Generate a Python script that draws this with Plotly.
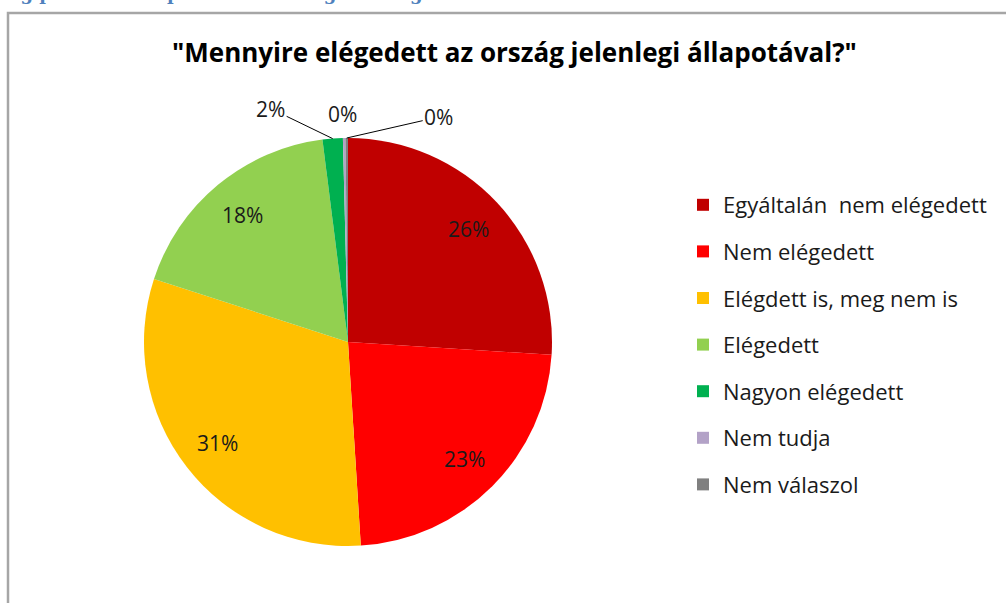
import math
import plotly.graph_objects as go

# Data
labels = ["Egyáltalán\u00a0 nem elégedett", "Nem elégedett", "Elégdett is, meg nem is",
          "Elégedett", "Nagyon elégedett", "Nem tudja", "Nem válaszol"]
values = [26.0, 23.0, 31.0, 18.0, 1.6, 0.2, 0.2]
colors = ["#C00000", "#FF0000", "#FFC000", "#92D050", "#00B050", "#B3A2C7", "#808080"]
title_text = '"Mennyire elégedett az ország jelenlegi állapotával?"'
header_text = "ország politikai állapotával való elégedettség"

W, H = 1006, 603
FONT = "'Open Sans', sans-serif"

# pie geometry in pixels
cx, cy, R = 348, 342, 204


def px(x):
    return x / W


def py(y):
    return 1 - y / H


fig = go.Figure()

fig.add_trace(go.Pie(
    labels=labels,
    values=values,
    marker=dict(colors=colors, line=dict(width=0)),
    sort=False,
    direction="clockwise",
    rotation=0,
    textinfo="none",
    hoverinfo="label+percent",
    showlegend=False,
    domain=dict(x=[px(cx - R), px(cx + R)], y=[py(cy + R), py(cy - R)]),
))

# legend through dummy traces so the row spacing can be set
for i, (lab, col) in enumerate(zip(labels, colors)):
    fig.add_trace(go.Scatter(
        x=[None], y=[None], mode="markers", name=lab,
        legendgroup=str(i),
        marker=dict(symbol="square", size=15, color=col),
    ))

# percentage labels
total = sum(values)
annotations = []
cum = 0
lab_font = dict(family=FONT, size=21, color="#1a1a1a")
# label placement for slices too small to hold text: (dx, dy, leader line)
small_pos = {4: (-62, -30, True), 5: (-2, -24, False), 6: (92, -21, True)}
for i, v in enumerate(values):
    mid = (cum + v / 2) / total * 2 * math.pi
    cum += v
    txt = f"{round(v / total * 100)}%"
    if i in small_pos:
        dx, dy, line = small_pos[i]
        ex = cx + R * math.sin(mid)
        ey = cy - R * math.cos(mid)
        if line:
            annotations.append(dict(
                x=px(ex), y=py(ey), xref="paper", yref="paper",
                text=txt, showarrow=True, arrowhead=0, arrowwidth=1,
                arrowcolor="#000000", ax=dx, ay=dy, font=lab_font,
            ))
        else:
            annotations.append(dict(
                x=px(ex + dx), y=py(ey + dy), xref="paper", yref="paper",
                xanchor="center", yanchor="middle",
                text=txt, showarrow=False, font=lab_font,
            ))
    else:
        lx = cx + 0.81 * R * math.sin(mid)
        ly = cy - 0.81 * R * math.cos(mid)
        annotations.append(dict(
            x=px(lx), y=py(ly), xref="paper", yref="paper",
            xanchor="center", yanchor="middle",
            text=txt, showarrow=False, font=lab_font,
        ))

# chart title
annotations.append(dict(
    x=px(514), y=py(52), xref="paper", yref="paper", xanchor="center", yanchor="middle",
    text=f"<b>{title_text}</b>",
    showarrow=False, font=dict(family=FONT, size=26, color="#000000"),
))
# clipped document heading above the chart frame
annotations.append(dict(
    x=px(-35), y=py(6), xref="paper", yref="paper", xanchor="left", yanchor="bottom",
    text=f"<b>{header_text}</b>", showarrow=False,
    font=dict(family="'DejaVu Serif', serif", size=18, color="#4F81BD"),
))

fig.update_layout(
    width=W, height=H,
    margin=dict(l=0, r=0, t=0, b=0),
    paper_bgcolor="#ffffff",
    plot_bgcolor="#ffffff",
    xaxis=dict(visible=False),
    yaxis=dict(visible=False),
    annotations=annotations,
    legend=dict(
        x=px(683), y=py(184), xanchor="left", yanchor="top",
        tracegroupgap=15, itemsizing="constant",
        font=dict(family=FONT, size=22, color="#1a1a1a"),
        bgcolor="rgba(0,0,0,0)",
    ),
    shapes=[dict(
        type="rect", xref="paper", yref="paper",
        x0=px(8), x1=px(1015), y0=py(620), y1=py(13),
        line=dict(color="#a6a6a6", width=2.5), fillcolor="rgba(0,0,0,0)",
    )],
)

fig.write_html("out.html", config={"displayModeBar": False},
               post_script="document.body.style.margin='0px';")
